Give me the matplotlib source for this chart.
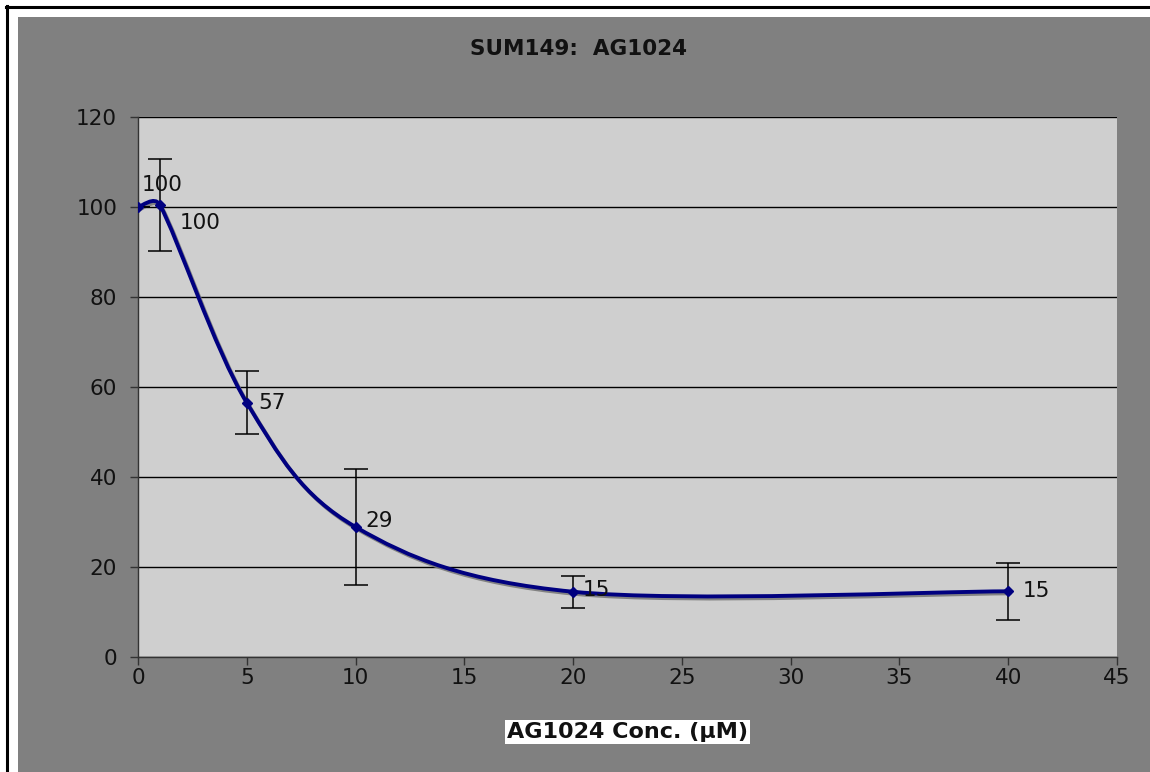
import numpy as np
import matplotlib
matplotlib.use('Agg')
import matplotlib.pyplot as plt
from matplotlib.path import Path
from matplotlib.patches import PathPatch, Rectangle
from matplotlib.lines import Line2D
import matplotlib.patheffects as pe

# --- DATA ---
conc = [0, 1, 5, 10, 20, 40]
viability = [100, 100.5, 56.5, 28.9, 14.5, 14.6]
err = [0, 10.2, 7.0, 12.8, 3.6, 6.4]
labels = ["100", "100", "57", "29", "15", "15"]
label_offsets = [(4, 22), (20, -18), (12, 0), (10, 6), (10, 2), (14, 0)]  # pixels

x_ticks = [0, 5, 10, 15, 20, 25, 30, 35, 40, 45]
y_ticks = [0, 20, 40, 60, 80, 100, 120]

title = "SUM149:  AG1024"
xlabel = "AG1024 Conc. (\u00b5M)"

W, H = 1150, 772
fig = plt.figure(figsize=(W / 100, H / 100), dpi=100, facecolor='white')

# frame: black lines at top/left, gray chart area
fig.add_artist(Rectangle((18 / W, 0), 1 - 18 / W, 1 - 17 / H, transform=fig.transFigure,
                         facecolor='#808080', edgecolor='none', zorder=0))
fig.add_artist(Line2D([6 / W, 1], [1 - 6.5 / H, 1 - 6.5 / H], transform=fig.transFigure,
                      color='black', lw=2.2))
fig.add_artist(Line2D([6.5 / W, 6.5 / W], [0, 1 - 6 / H], transform=fig.transFigure,
                      color='black', lw=2.2))

ax_l, ax_r, ax_t, ax_b = 138, 1117, 117, 657
ax = fig.add_axes([ax_l / W, 1 - ax_b / H, (ax_r - ax_l) / W, (ax_b - ax_t) / H])
ax.set_facecolor('#CFCFCF')
ax.set_xlim(0, 45)
ax.set_ylim(0, 120)
ax.set_xticks(x_ticks)
ax.set_yticks(y_ticks)
ax.grid(True, axis='y', color='black', lw=1.0)
ax.set_axisbelow(True)
for s in ['top', 'right']:
    ax.spines[s].set_visible(False)
for s in ['left', 'bottom']:
    ax.spines[s].set_color('#333333')
    ax.spines[s].set_linewidth(1.0)
ax.tick_params(direction='out', length=6, width=1, color='#333333',
               labelsize=15.5, labelcolor='#111111')
ax.tick_params(axis='x', pad=2)
ax.tick_params(axis='y', pad=9)

# --- smoothed line (Excel-style bezier) ---
sx = (ax_r - ax_l) / 45.0
sy = (ax_b - ax_t) / 120.0
P = np.column_stack([np.array(conc) * sx, np.array(viability) * sy])
n = len(P)
tang = []
for i in range(n):
    a = P[max(i - 1, 0)]
    b = P[min(i + 1, n - 1)]
    tang.append((b - a) / 6.0)
verts = [P[0]]
codes = [Path.MOVETO]
for i in range(n - 1):
    seg = np.linalg.norm(P[i + 1] - P[i])
    h1, h2 = tang[i], tang[i + 1]
    cap = seg * 0.5
    if np.linalg.norm(h1) > cap:
        h1 = h1 / np.linalg.norm(h1) * cap
    if np.linalg.norm(h2) > cap:
        h2 = h2 / np.linalg.norm(h2) * cap
    verts += [P[i] + h1, P[i + 1] - h2, P[i + 1]]
    codes += [Path.CURVE4] * 3
verts = np.array(verts) / np.array([sx, sy])
curve = PathPatch(Path(verts, codes), facecolor='none', edgecolor='#000080', lw=2.8,
                  zorder=3, capstyle='round', joinstyle='round')
curve.set_path_effects([pe.SimpleLineShadow(offset=(1.2, -1.5), shadow_color='#7a7a7a', alpha=0.9),
                        pe.Normal()])
ax.add_patch(curve)

ax.errorbar(conc, viability, yerr=err, fmt='none', ecolor='black', elinewidth=1.1,
            capsize=8.5, capthick=1.1, zorder=4)
ax.plot(conc, viability, linestyle='none', marker='D', markersize=5.5,
        color='#000080', zorder=5)

for x, y, lab, (dx, dy) in zip(conc, viability, labels, label_offsets):
    ax.annotate(lab, (x, y), xytext=(dx, dy), textcoords='offset pixels',
                ha='left', va='center', fontsize=15.5, color='#111111', zorder=6)

fig.text(578 / W, 1 - 49 / H, title, ha='center', va='center',
         fontsize=15.5, fontweight='bold', color='#111111')
fig.text((ax_l + ax_r) / 2 / W, 1 - 732 / H, xlabel, ha='center', va='center',
         fontsize=16, fontweight='bold', color='#111111',
         bbox=dict(facecolor='white', edgecolor='none', pad=1.5))

fig.savefig('out.png', dpi=100, facecolor='white')
